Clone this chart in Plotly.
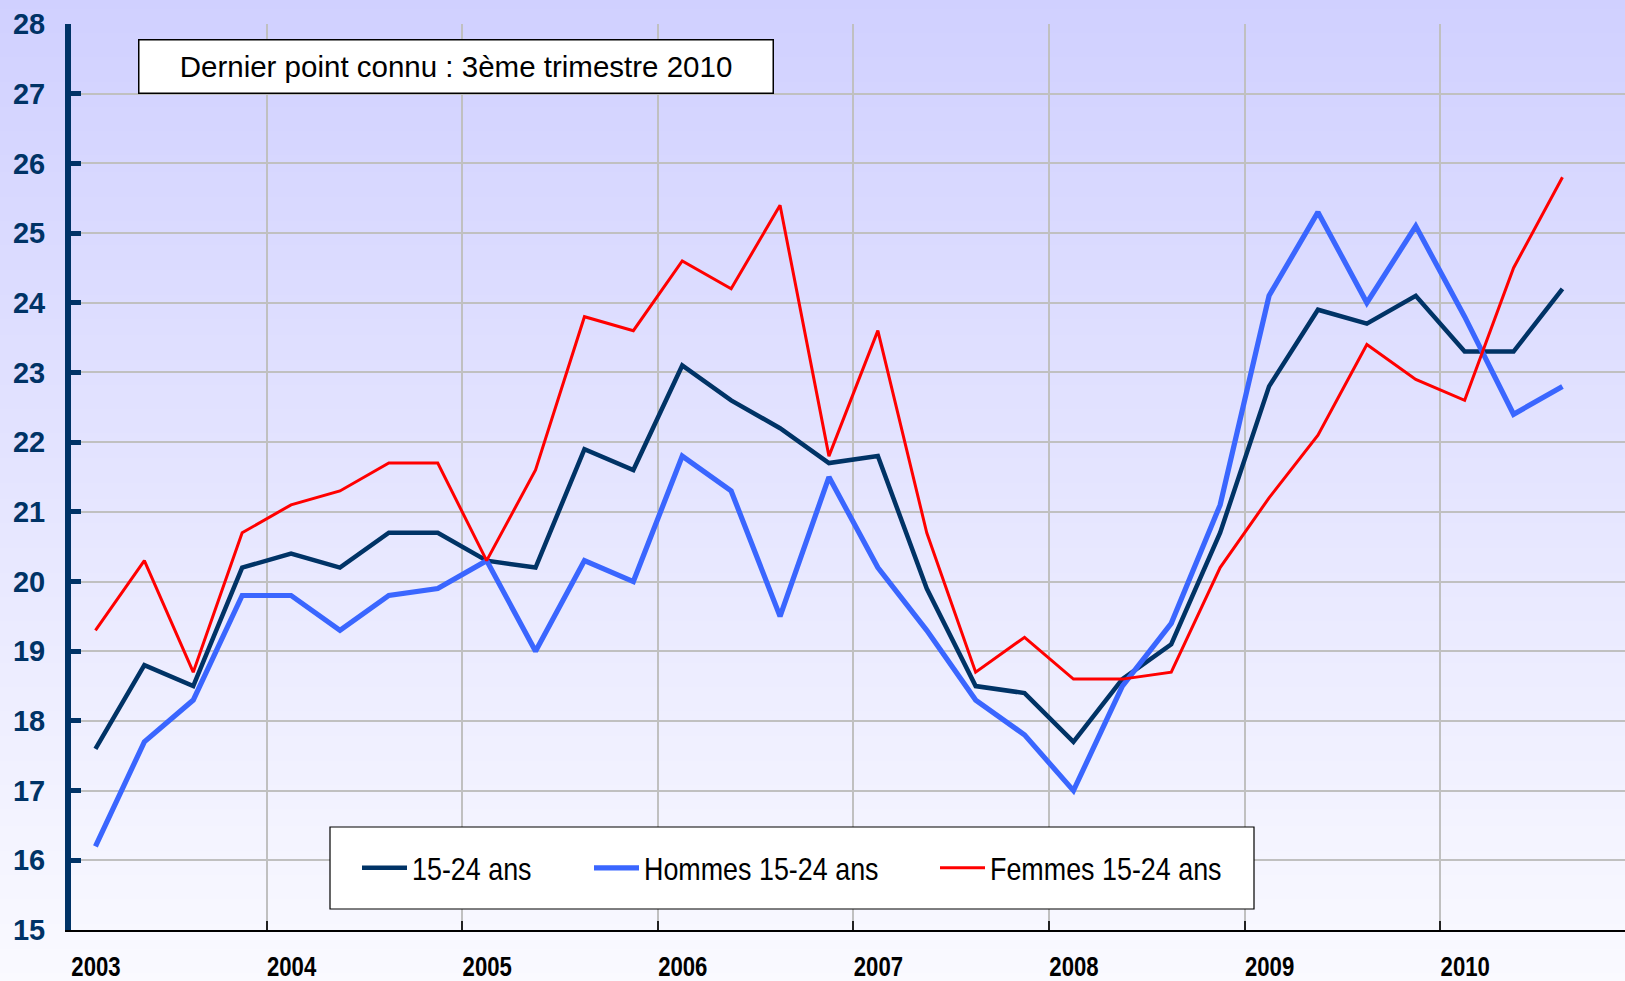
import plotly.graph_objects as go

# ---------------- data ----------------
years = [2003, 2004, 2005, 2006, 2007, 2008, 2009, 2010]
quarters = [(y, q) for y in years for q in (1, 2, 3, 4)][:31]  # 2003T1 .. 2010T3

ensemble = [17.6, 18.8, 18.5, 20.2,
            20.4, 20.2, 20.7, 20.7,
            20.3, 20.2, 21.9, 21.6,
            23.1, 22.6, 22.2, 21.7,
            21.8, 19.9, 18.5, 18.4,
            17.7, 18.6, 19.1, 20.7,
            22.8, 23.9, 23.7, 24.1,
            23.3, 23.3, 24.2]
hommes = [16.2, 17.7, 18.3, 19.8,
          19.8, 19.3, 19.8, 19.9,
          20.3, 19.0, 20.3, 20.0,
          21.8, 21.3, 19.5, 21.5,
          20.2, 19.3, 18.3, 17.8,
          17.0, 18.5, 19.4, 21.1,
          24.1, 25.3, 24.0, 25.1,
          23.8, 22.4, 22.8]
femmes = [19.3, 20.3, 18.7, 20.7,
          21.1, 21.3, 21.7, 21.7,
          20.3, 21.6, 23.8, 23.6,
          24.6, 24.2, 25.4, 21.8,
          23.6, 20.7, 18.7, 19.2,
          18.6, 18.6, 18.7, 20.2,
          21.2, 22.1, 23.4, 22.9,
          22.6, 24.5, 25.8]
series_names = ["15-24 ans", "Hommes 15-24 ans", "Femmes 15-24 ans"]
y_ticks = list(range(15, 29))
note_text = "Dernier point connu : 3ème trimestre 2010"

# quarter mid-points on a numeric year axis
xq = [y + (q - 0.5) / 4 for (y, q) in quarters]

# ---------------- layout geometry ----------------
W, H = 1625, 981
L, R, T, B = 71, 0, 24, 51
PW, PH = W - L - R, H - T - B
X0 = 2003
PX_PER_YEAR = 195.6
X1 = X0 + PW / PX_PER_YEAR


def px_x(px):
    return (px - L) / PW


def px_y(py):
    return (H - B - py) / PH


fig = go.Figure()

styles = [
    dict(color="#003366", width=4.5),
    dict(color="#3A66FF", width=5.2),
    dict(color="#FF0000", width=3),
]
legends = ["legend", "legend2", "legend3"]
for vals, name, st, lg in zip([ensemble, hommes, femmes], series_names, styles, legends):
    fig.add_trace(go.Scatter(
        x=xq, y=vals, name=name, mode="lines",
        line=dict(color=st["color"], width=st["width"]),
        legend=lg,
    ))

# background gradient (figure-wide)
shapes = []
N = 120
top = (208, 208, 255)
bot = (250, 250, 255)
for i in range(N):
    y_top = H * i / N
    y_bot = H * (i + 1) / N + 1
    t = (i + 0.5) / N
    c = tuple(round(top[k] + (bot[k] - top[k]) * t) for k in range(3))
    shapes.append(dict(
        type="rect", xref="paper", yref="paper",
        x0=px_x(-5), x1=px_x(W + 5), y0=px_y(y_bot), y1=px_y(y_top),
        fillcolor="rgb(%d,%d,%d)" % c, line=dict(width=0), layer="below",
    ))

# legend frame
shapes.append(dict(
    type="rect", xref="paper", yref="paper",
    x0=px_x(330), x1=px_x(1254), y0=px_y(909), y1=px_y(827),
    fillcolor="white", line=dict(color="black", width=1.2), layer="above",
))

legend_font = dict(family="Liberation Sans, Arial", size=32, color="black")
leg_common = dict(
    orientation="h", bgcolor="rgba(0,0,0,0)", borderwidth=0,
    font=legend_font, yanchor="middle", xanchor="left",
    itemwidth=45, y=px_y(868),
)

fig.update_layout(
    width=W, height=H,
    margin=dict(l=L, r=R, t=T, b=B, pad=0, autoexpand=False),
    paper_bgcolor="rgba(0,0,0,0)",
    plot_bgcolor="rgba(0,0,0,0)",
    showlegend=True,
    shapes=shapes,
    legend=dict(x=px_x(357), **leg_common),
    legend2=dict(x=px_x(589), **leg_common),
    legend3=dict(x=px_x(935), **leg_common),
    xaxis=dict(
        range=[X0, X1], tickmode="array", tickvals=years,
        ticktext=[str(y) for y in years],
        showgrid=True, gridcolor="#C0C0C0", gridwidth=2,
        showline=True, linecolor="black", linewidth=1.5,
        ticks="inside", ticklen=9, tickwidth=1.5, tickcolor="#222222",
        ticklabelshift=25, ticklabelstandoff=12,
        tickfont=dict(family="Liberation Sans, Arial", size=27, color="black", weight="bold"),
        zeroline=False, layer="above traces", automargin=False,
    ),
    yaxis=dict(
        range=[15, 28], tickmode="array", tickvals=y_ticks,
        showgrid=True, gridcolor="#C0C0C0", gridwidth=2,
        showline=True, linecolor="#003366", linewidth=6,
        ticks="inside", ticklen=10, tickwidth=5, tickcolor="#003366",
        ticklabelstandoff=14,
        tickfont=dict(family="Liberation Sans, Arial", size=29, color="#003366", weight="bold"),
        zeroline=False, automargin=False,
    ),
    annotations=[dict(
        xref="paper", yref="paper", x=px_x(456), y=px_y(66.5),
        xanchor="center", yanchor="middle",
        text=note_text, showarrow=False,
        font=dict(family="Liberation Sans, Arial", size=29.5, color="black"),
        bgcolor="white", bordercolor="black", borderwidth=1.5, borderpad=0,
        width=633, height=52,
    )],
)

# page margin removal + narrow (Arial-Narrow-like) rendering of legend and year labels
post_js = """
document.body.style.margin = '0';
document.body.style.padding = '0';
var gd = document.getElementById('{plot_id}');
var LEG_SEL = 'text.legendtext, text.legend2text, text.legend3text';
function squeezeLegend() {
  document.querySelectorAll(LEG_SEL).forEach(function (t) {
    t.style.transformBox = 'fill-box';
    t.style.transformOrigin = 'left center';
    t.style.transform = 'scaleX(0.84)';
  });
}
function squeezeTicks() {
  document.querySelectorAll('g.xtick text').forEach(function (t) {
    if (t.getAttribute('textLength')) return;
    var w = t.getComputedTextLength();
    if (w > 0) {
      t.setAttribute('textLength', (w * 0.82).toFixed(2));
      t.setAttribute('lengthAdjust', 'spacingAndGlyphs');
    }
  });
}
function squeezeAll() { squeezeLegend(); squeezeTicks(); }
squeezeAll();
var obs = new MutationObserver(function () { squeezeAll(); });
obs.observe(document.body, {childList: true, subtree: true, characterData: true});
gd.on('plotly_afterplot', squeezeAll);
requestAnimationFrame(squeezeAll);
setTimeout(squeezeAll, 0);
setTimeout(squeezeAll, 50);
setTimeout(squeezeAll, 300);
"""

fig.write_html("out.html", post_script=post_js, config={"displayModeBar": False})
